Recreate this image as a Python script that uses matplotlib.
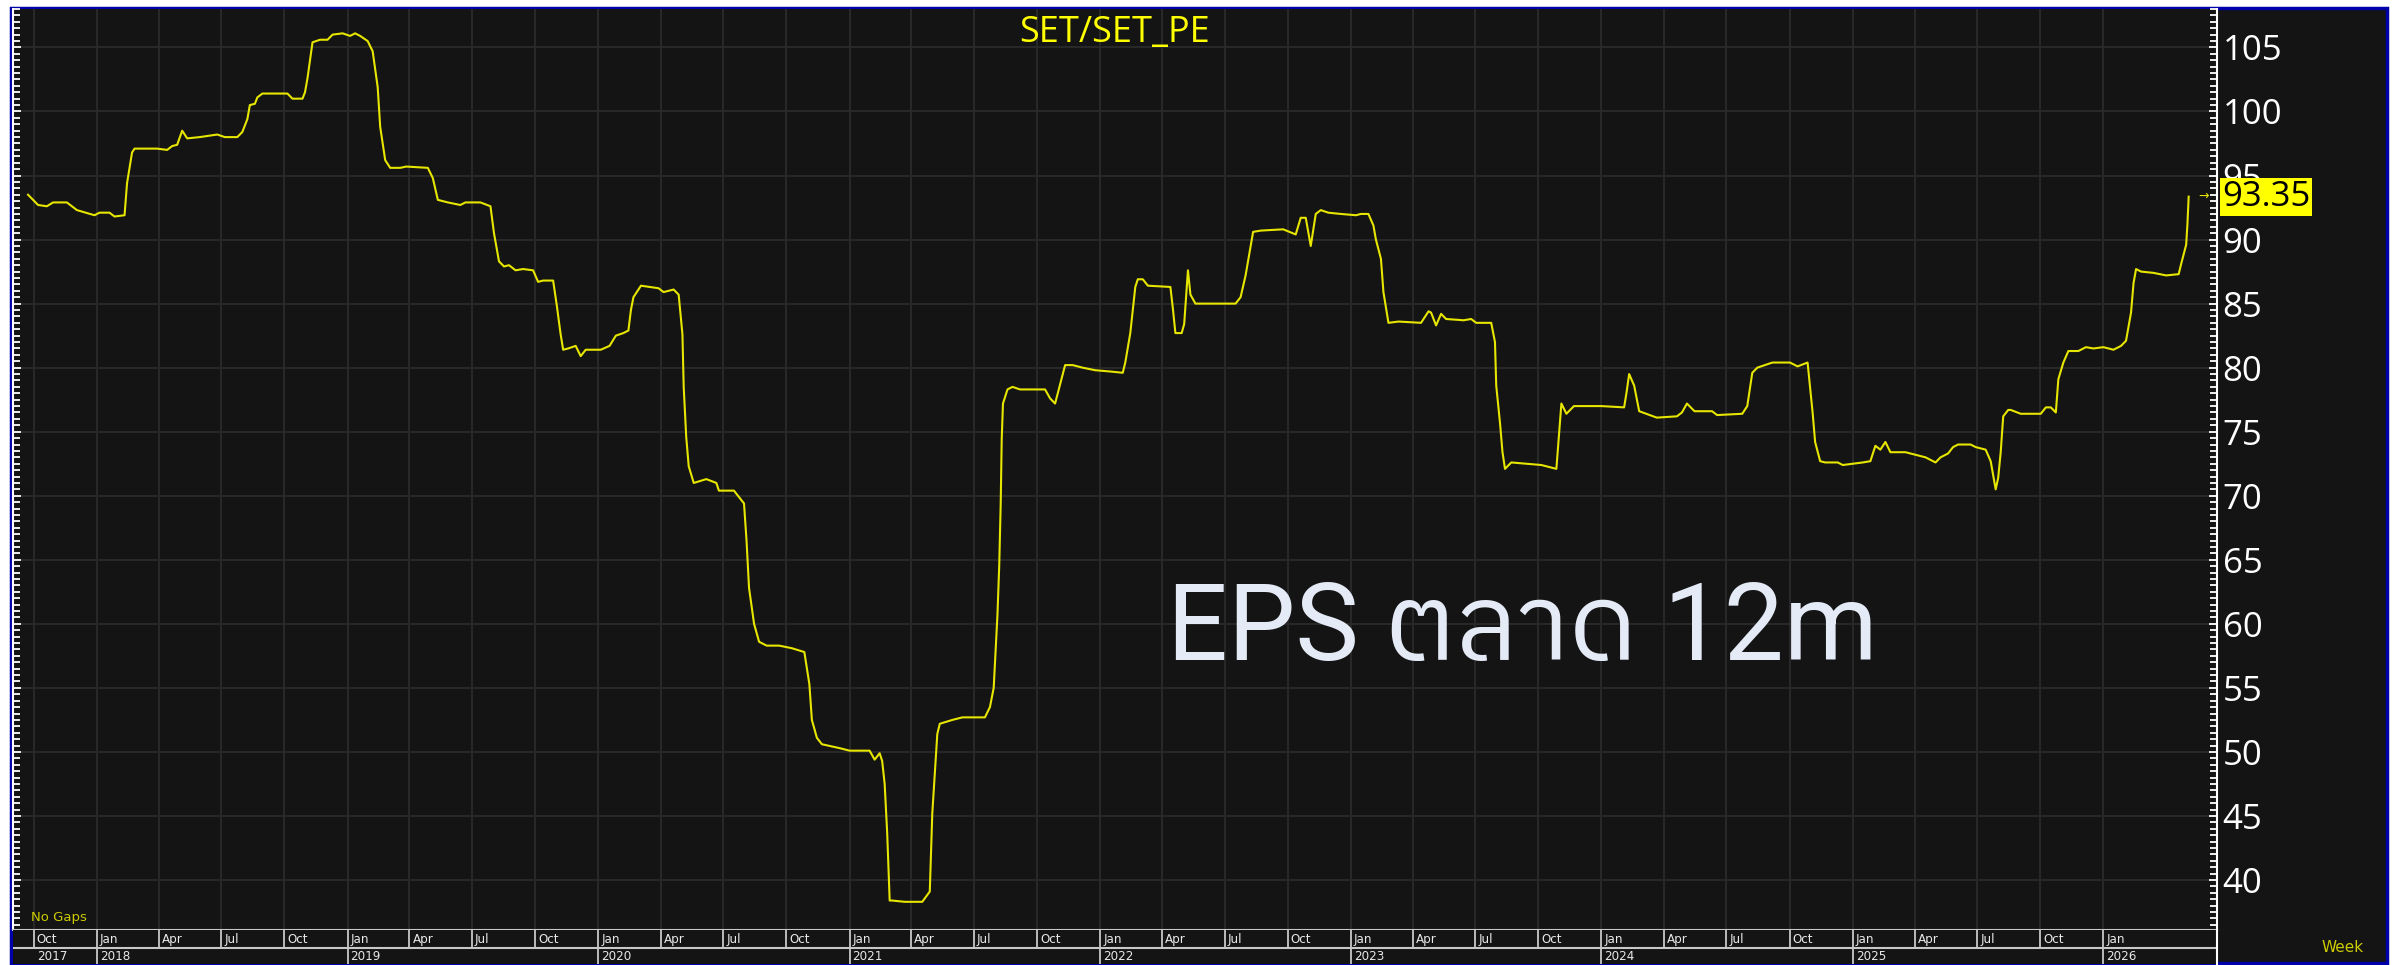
# =============================
# IMPORTS
# =============================
from datetime import datetime, timedelta

import matplotlib
matplotlib.use("Agg")
import matplotlib.pyplot as plt
import matplotlib.transforms as mtransforms
import pandas as pd
from matplotlib import font_manager
from matplotlib.ft2font import FT2Font
from matplotlib.patches import Rectangle
from matplotlib.ticker import MultipleLocator

# =============================
# DATA (SET P/E, weekly; x = decimal year)
# =============================
anos = [
    2017.725, 2017.745, 2017.765, 2017.80, 2017.825, 2017.88, 2017.92, 2017.99,
    2018.01, 2018.05, 2018.07, 2018.11, 2018.12, 2018.14, 2018.15, 2018.24,
    2018.28, 2018.30, 2018.32, 2018.34, 2018.36, 2018.41, 2018.48, 2018.51,
    2018.56, 2018.58, 2018.60, 2018.61, 2018.63, 2018.64, 2018.66, 2018.76,
    2018.78, 2018.82, 2018.83, 2018.84, 2018.86, 2018.89, 2018.92, 2018.94,
    2018.98, 2019.01, 2019.03, 2019.05, 2019.08, 2019.10, 2019.12, 2019.13,
    2019.15, 2019.17, 2019.21, 2019.234, 2019.32, 2019.34, 2019.36, 2019.40,
    2019.45, 2019.47, 2019.53, 2019.57, 2019.584, 2019.604, 2019.624, 2019.644,
    2019.67, 2019.70, 2019.74, 2019.76, 2019.78, 2019.82, 2019.835, 2019.85,
    2019.86, 2019.88, 2019.91, 2019.93, 2019.95, 2020.01, 2020.045, 2020.07,
    2020.10, 2020.12, 2020.13, 2020.14, 2020.17, 2020.24, 2020.26, 2020.30,
    2020.32, 2020.335, 2020.34, 2020.35, 2020.36, 2020.38, 2020.43, 2020.47,
    2020.48, 2020.54, 2020.58, 2020.59, 2020.60, 2020.62, 2020.64, 2020.67,
    2020.72, 2020.77, 2020.82, 2020.84, 2020.85, 2020.87, 2020.89, 2020.96,
    2021.00, 2021.08, 2021.10, 2021.12, 2021.13, 2021.14, 2021.15, 2021.16,
    2021.17, 2021.22, 2021.29, 2021.32, 2021.33, 2021.35, 2021.36, 2021.41,
    2021.45, 2021.54, 2021.56, 2021.575, 2021.58, 2021.59, 2021.597, 2021.603,
    2021.607, 2021.612, 2021.63, 2021.65, 2021.68, 2021.78, 2021.80, 2021.82,
    2021.84, 2021.86, 2021.89, 2021.93, 2021.98, 2022.04, 2022.09, 2022.10,
    2022.12, 2022.14, 2022.15, 2022.17, 2022.19, 2022.28, 2022.29, 2022.30,
    2022.325, 2022.335, 2022.343, 2022.35, 2022.36, 2022.38, 2022.46, 2022.54,
    2022.56, 2022.58, 2022.60, 2022.61, 2022.64, 2022.73, 2022.78, 2022.80,
    2022.82, 2022.84, 2022.86, 2022.88, 2022.91, 2022.96, 2023.02, 2023.04,
    2023.07, 2023.09, 2023.10, 2023.12, 2023.13, 2023.15, 2023.19, 2023.28,
    2023.31, 2023.32, 2023.34, 2023.36, 2023.38, 2023.45, 2023.48, 2023.50,
    2023.56, 2023.575, 2023.58, 2023.595, 2023.605, 2023.615, 2023.64, 2023.76,
    2023.82, 2023.83, 2023.84, 2023.86, 2023.89, 2023.94, 2024.00, 2024.09,
    2024.10, 2024.11, 2024.13, 2024.15, 2024.22, 2024.30, 2024.32, 2024.34,
    2024.37, 2024.44, 2024.46, 2024.56, 2024.58, 2024.60, 2024.62, 2024.68,
    2024.75, 2024.78, 2024.82, 2024.84, 2024.85, 2024.87, 2024.89, 2024.94,
    2024.96, 2025.04, 2025.07, 2025.09, 2025.11, 2025.13, 2025.15, 2025.21,
    2025.25, 2025.29, 2025.33, 2025.35, 2025.38, 2025.40, 2025.42, 2025.47,
    2025.49, 2025.53, 2025.55, 2025.56, 2025.57, 2025.58, 2025.59, 2025.60,
    2025.62, 2025.63, 2025.67, 2025.75, 2025.77, 2025.79, 2025.81, 2025.82,
    2025.84, 2025.86, 2025.90, 2025.93, 2025.96, 2026.00, 2026.04, 2026.07,
    2026.09, 2026.11, 2026.12, 2026.13, 2026.15, 2026.20, 2026.25, 2026.30,
    2026.31, 2026.33, 2026.335, 2026.34,
]
pe = [
    93.5, 93.1, 92.7, 92.6, 92.9, 92.9, 92.3, 91.9,
    92.1, 92.1, 91.8, 91.9, 94.4, 96.8, 97.1, 97.1,
    97.0, 97.3, 97.4, 98.5, 97.9, 98.0, 98.2, 98.0,
    98.0, 98.4, 99.4, 100.5, 100.6, 101.1, 101.4, 101.4,
    101.0, 101.0, 101.5, 102.6, 105.4, 105.6, 105.6, 106.0,
    106.1, 105.9, 106.1, 105.9, 105.5, 104.7, 101.9, 98.8,
    96.2, 95.6, 95.6, 95.7, 95.6, 94.8, 93.1, 92.9,
    92.7, 92.9, 92.9, 92.6, 90.5, 88.3, 87.9, 88.0,
    87.6, 87.7, 87.6, 86.7, 86.8, 86.8, 84.8, 82.6,
    81.4, 81.5, 81.7, 80.9, 81.4, 81.4, 81.7, 82.5,
    82.7, 82.9, 84.5, 85.5, 86.4, 86.2, 85.9, 86.1,
    85.7, 82.6, 78.5, 74.6, 72.3, 71.0, 71.3, 71.0,
    70.4, 70.4, 69.4, 66.5, 62.8, 60.0, 58.6, 58.3,
    58.3, 58.1, 57.8, 55.3, 52.5, 51.1, 50.6, 50.3,
    50.1, 50.1, 49.4, 49.9, 49.3, 47.5, 43.7, 38.4,
    38.4, 38.3, 38.3, 39.1, 45.2, 51.4, 52.2, 52.5,
    52.7, 52.7, 53.5, 55.0, 56.9, 60.7, 64.5, 69.4,
    74.4, 77.2, 78.3, 78.5, 78.3, 78.3, 77.6, 77.2,
    78.7, 80.2, 80.2, 80.0, 79.8, 79.7, 79.6, 80.4,
    82.7, 86.3, 86.9, 86.9, 86.4, 86.3, 84.6, 82.7,
    82.7, 83.4, 85.7, 87.6, 85.7, 85.0, 85.0, 85.0,
    85.5, 87.2, 89.5, 90.6, 90.7, 90.8, 90.4, 91.7,
    91.7, 89.5, 92.0, 92.3, 92.1, 92.0, 91.9, 92.0,
    92.0, 91.1, 90.0, 88.5, 85.9, 83.5, 83.6, 83.5,
    84.4, 84.3, 83.3, 84.2, 83.8, 83.7, 83.8, 83.5,
    83.5, 82.0, 78.6, 75.7, 73.4, 72.1, 72.6, 72.4,
    72.1, 74.7, 77.2, 76.4, 77.0, 77.0, 77.0, 76.9,
    78.1, 79.5, 78.6, 76.6, 76.1, 76.2, 76.5, 77.2,
    76.6, 76.6, 76.3, 76.4, 77.0, 79.6, 80.0, 80.4,
    80.4, 80.1, 80.4, 76.5, 74.2, 72.7, 72.6, 72.6,
    72.4, 72.6, 72.7, 73.9, 73.6, 74.2, 73.4, 73.4,
    73.2, 73.0, 72.6, 73.0, 73.3, 73.8, 74.0, 74.0,
    73.8, 73.6, 72.7, 71.6, 70.5, 71.4, 73.4, 76.2,
    76.7, 76.7, 76.4, 76.4, 76.9, 76.9, 76.5, 79.1,
    80.4, 81.3, 81.3, 81.6, 81.5, 81.6, 81.4, 81.7,
    82.1, 84.3, 86.6, 87.7, 87.5, 87.4, 87.2, 87.3,
    88.1, 89.6, 91.2, 93.35,
]
ultimo = "93.35"
titulo = "SET/SET_PE"
rotulo = "EPS ตลาด 12m"

# =============================
# STYLE
# =============================
W, H = 2402, 965
FUNDO = "#141414"
GRADE = "#2b2b2b"
AMARELO = "#e6e600"
CINZA = "#c8c8c8"
plt.rcParams["font.family"] = ["Open Sans", "DejaVu Sans"]


def para_data(a):
    ano = int(a)
    inicio = datetime(ano, 1, 1)
    dias = (datetime(ano + 1, 1, 1) - inicio).days
    return inicio + timedelta(days=(a - ano) * dias)


def fonte_thai():
    # installed fonts with Thai glyphs; prefer a plain, loopless sans
    achadas = []
    for f in font_manager.fontManager.ttflist:
        try:
            if 0x0E15 in FT2Font(f.fname).get_charmap():
                achadas.append(f)
        except Exception:
            pass
    if not achadas:
        return "DejaVu Sans"

    def nota(f):
        peso = f.weight if isinstance(f.weight, int) else 400
        return ("Looped" in f.name, "Thai" not in f.name, "Sans" not in f.name,
                f.style != "normal", abs(peso - 400))

    return min(achadas, key=nota).name


def caixa(x0, y0, x1, y1):
    # pixel box (top-left origin) -> figure fraction
    return [x0 / W, 1 - y1 / H, (x1 - x0) / W, (y1 - y0) / H]


datas = [para_data(a) for a in anos]
trimestres = pd.date_range("2017-10-01", "2026-01-01", freq="QS")

# =============================
# FIGURE
# =============================
fig = plt.figure(figsize=(W / 100, H / 100), dpi=100, facecolor="white")
fig.add_artist(Rectangle((10.8 / W, 1.7 / H), (2387.2 - 10.8) / W, (963.3 - 7.7) / H,
                         transform=fig.transFigure, facecolor=FUNDO,
                         edgecolor="#0000a8", lw=2.5, zorder=0))

ax = fig.add_axes(caixa(13, 9, 2217, 930))
ax.set_facecolor(FUNDO)
ax.plot(datas, pe, color=AMARELO, lw=1.5, solid_joinstyle="round", zorder=3)
ax.set_xlim(para_data(2017.665), para_data(2026.453))
ax.set_ylim(36.1, 108.0)

ax.set_xticks(trimestres)
ax.yaxis.set_major_locator(MultipleLocator(5))
ax.yaxis.set_minor_locator(MultipleLocator(0.5))
ax.tick_params(axis="x", which="both", bottom=False, labelbottom=False)
ax.tick_params(axis="y", which="both", left=True, right=True, labelleft=False,
               labelright=True, direction="in", colors="white", width=1.3)
ax.tick_params(axis="y", which="major", length=6, pad=4, labelsize=25)
ax.tick_params(axis="y", which="minor", length=5)
ax.grid(True, which="major", color=GRADE, lw=1.3)
ax.set_axisbelow(True)

ax.spines["top"].set_visible(False)
for lado in ["left", "right"]:
    ax.spines[lado].set_color("white")
    ax.spines[lado].set_linewidth(1.5)
ax.spines["bottom"].set_color(CINZA)
ax.spines["bottom"].set_linewidth(1.5)

ax.text(0.5, 1 - 24 / 921, titulo, transform=ax.transAxes, ha="center", va="center",
        color="#ffff00", fontsize=26)
ax.text(0.0082, 12 / 921, "No Gaps", transform=ax.transAxes, ha="left", va="center",
        color="#cccc00", fontsize=9.5, family="DejaVu Sans")
ax.text(0.9941, pe[-1], "→", transform=ax.get_yaxis_transform(), ha="center",
        va="center", color=AMARELO, fontsize=9, family="DejaVu Sans", clip_on=False)
ax.text(1.0, pe[-1], ultimo,
        transform=mtransforms.offset_copy(ax.get_yaxis_transform(), fig=fig, x=5, y=0, units="dots"),
        ha="left", va="center", color="black", fontsize=25, clip_on=False, zorder=5,
        bbox=dict(boxstyle="square,pad=0.06", fc="#ffff00", ec="none"))
ax.text(0.5235, 0.293, rotulo, transform=ax.transAxes, ha="left", va="baseline",
        color="#e4eaf6", fontsize=77, fontweight="normal",
        family=["Roboto", fonte_thai(), "DejaVu Sans"])

# =============================
# DATE BAND (months / years)
# =============================
faixa = fig.add_axes(caixa(13, 930, 2217, 964), sharex=ax)
faixa.set_facecolor(FUNDO)
faixa.set_ylim(34, 0)
faixa.tick_params(left=False, bottom=False, labelleft=False, labelbottom=False)
for lado in ["top", "bottom", "left"]:
    faixa.spines[lado].set_visible(False)
faixa.spines["right"].set_color("white")
faixa.spines["right"].set_linewidth(1.5)
faixa.axhline(18, color=CINZA, lw=1.5)
faixa.vlines(trimestres, 0, 18, color=CINZA, lw=1.3)
janeiros = [d for d in trimestres if d.month == 1]
faixa.vlines(janeiros, 18, 34, color=CINZA, lw=1.3)

desloc = mtransforms.offset_copy(faixa.transData, fig=fig, x=3, y=0, units="dots")
for d in trimestres:
    faixa.text(d, 9.5, d.strftime("%b"), transform=desloc, ha="left", va="center",
               color="#e8e8e8", fontsize=9.5, family="DejaVu Sans", fontstretch="condensed")
for d in [trimestres[0]] + janeiros:
    faixa.text(d, 26.5, str(d.year), transform=desloc, ha="left", va="center",
               color="#e8e8e8", fontsize=9.5, family="DejaVu Sans", fontstretch="condensed")

fig.text(2322 / W, 1 - 948 / H, "Week", ha="left", va="center", color="#cccc00",
         fontsize=11, family="DejaVu Sans")

fig.savefig("out.png", dpi=100, facecolor=fig.get_facecolor())
